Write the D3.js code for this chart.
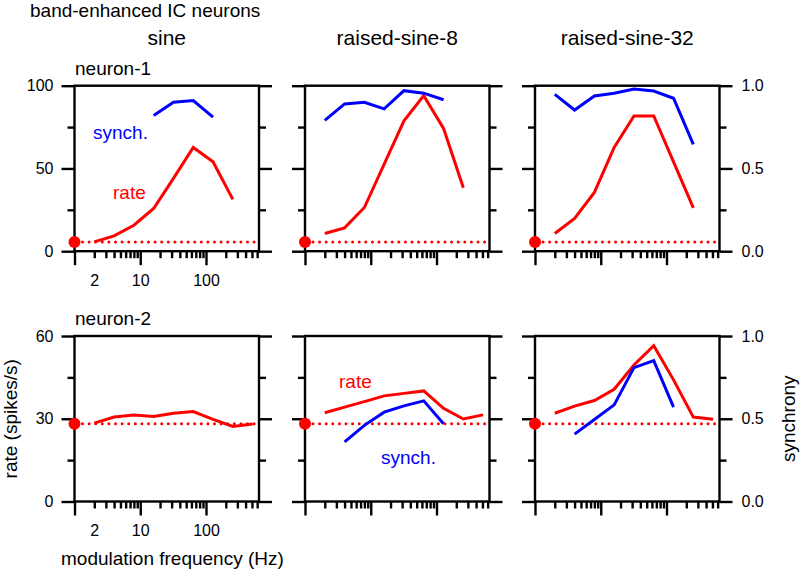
<!DOCTYPE html>
<html>
<head>
<meta charset="utf-8">
<script src="https://cdn.jsdelivr.net/npm/d3@7"></script>
<style>
  body { margin: 0; background: #fff; }
  svg text { font-family: "Liberation Sans", Arial, sans-serif; fill: #000; }
</style>
</head>
<body>
<div id="chart"></div>
<script>
// modulation frequencies (Hz), octave steps
const freqAll = [2, 4, 8, 16, 32, 64, 128, 256, 512];

// neuron-1 (rate in spikes/s, synch 0-1)
const n1Spont = 5.6;
const n1SineRate = [5.6, 9.3, 15.7, 25.8, 44, 62.7, 54, 31.3];
const n1SineSyncF = [16, 32, 64, 128];
const n1SineSync = [0.82, 0.90, 0.91, 0.81];
const n1Rs8Rate = [10.7, 14.1, 26.4, 52.6, 78.8, 94, 74.2, 38.3];
const n1Rs8Sync = [0.79, 0.89, 0.90, 0.86, 0.97, 0.955, 0.915];
const n1Rs32Rate = [10.7, 19.8, 35.5, 62.7, 81.7, 81.7, 54, 26.2];
const n1Rs32Sync = [0.948, 0.853, 0.938, 0.954, 0.98, 0.968, 0.924, 0.645];

// neuron-2
const n2Spont = 28.2;
const n2SineRate = [28.4, 30.6, 31.4, 30.8, 32, 32.6, 29.8, 27.2, 28.1];
const n2Rs8Rate = [32.2, 34.2, 36.2, 38.3, 39.2, 40.1, 33.8, 29.9, 31.4];
const n2Rs8SyncF = [4, 8, 16, 32, 64, 128];
const n2Rs8Sync = [0.36, 0.46, 0.54, 0.578, 0.608, 0.47];
const n2Rs32Rate = [32, 34.6, 36.6, 40.7, 49.5, 56.5, 44.1, 30.6, 29.8];
const n2Rs32Sync = [0.407, 0.495, 0.584, 0.809, 0.851, 0.57];

const columns = ["sine", "raised-sine-8", "raised-sine-32"];
const rateMax = [100, 60];
const rateTicks = [[0, 50, 100], [0, 30, 60]];
const rateMinor = [[25, 75], [15, 45]];
const syncTicks = ["0.0", "0.5", "1.0"];

function pairs(fs, vs) { return vs.map((v, i) => ({f: fs[i], v: v})); }

const panels = [
  {row: 0, col: 0, spont: n1Spont, rate: pairs(freqAll, n1SineRate), sync: pairs(n1SineSyncF, n1SineSync)},
  {row: 0, col: 1, spont: n1Spont, rate: pairs(freqAll, n1Rs8Rate), sync: pairs(freqAll, n1Rs8Sync)},
  {row: 0, col: 2, spont: n1Spont, rate: pairs(freqAll, n1Rs32Rate), sync: pairs(freqAll, n1Rs32Sync)},
  {row: 1, col: 0, spont: n2Spont, rate: pairs(freqAll, n2SineRate), sync: []},
  {row: 1, col: 1, spont: n2Spont, rate: pairs(freqAll, n2Rs8Rate), sync: pairs(n2Rs8SyncF, n2Rs8Sync)},
  {row: 1, col: 2, spont: n2Spont, rate: pairs(freqAll, n2Rs32Rate), sync: pairs(n2Rs8SyncF, n2Rs32Sync)}
];

const width = 800, height = 569;
const panelLeft = [74.5, 305, 535];
const panelTop = [85.7, 336];
const pw = 184.5, ph = 165.5;

const svg = d3.select("#chart").append("svg")
  .attr("width", width).attr("height", height);

svg.append("text").attr("x", 30).attr("y", 17)
  .style("font-size", "19px").text("band-enhanced IC neurons");

columns.forEach((c, i) => {
  svg.append("text").attr("x", panelLeft[i] + pw / 2).attr("y", 45)
    .attr("text-anchor", "middle").style("font-size", "21px").text(c);
});

["neuron-1", "neuron-2"].forEach((n, i) => {
  svg.append("text").attr("x", 75).attr("y", panelTop[i] - 11)
    .style("font-size", "19px").text(n);
});

svg.append("text")
  .attr("transform", "translate(17," + (panelTop[1] + ph / 2) + ") rotate(-90)")
  .attr("text-anchor", "middle").style("font-size", "19px").text("rate (spikes/s)");
svg.append("text")
  .attr("transform", "translate(795," + (panelTop[1] + ph / 2) + ") rotate(-90)")
  .attr("text-anchor", "middle").style("font-size", "19px").text("synchrony");
svg.append("text").attr("x", 61).attr("y", 565)
  .style("font-size", "19px").text("modulation frequency (Hz)");

const minorX = [2,3,4,5,6,7,8,9,20,30,40,50,60,70,80,90,200,300,400,500,600];

function styleAxis(g) {
  g.select(".domain").remove();
  g.selectAll(".tick line").attr("stroke", "#000").attr("stroke-width", 2.4);
  g.selectAll(".tick text").style("font-size", "16px")
    .style("font-family", "'Liberation Sans', Arial, sans-serif");
}

panels.forEach(p => {
  const g = svg.append("g")
    .attr("transform", "translate(" + panelLeft[p.col] + "," + panelTop[p.row] + ")");

  const x = d3.scaleLog().domain([1, 640]).range([0, pw]);
  const y = d3.scaleLinear().domain([0, rateMax[p.row]]).range([ph, 0]);
  const ys = d3.scaleLinear().domain([0, 1]).range([ph, 0]);

  // x axis: majors, minors, labels
  g.append("g").attr("transform", "translate(0," + ph + ")")
    .call(d3.axisBottom(x).tickValues([1, 10, 100]).tickSize(14).tickFormat(""))
    .call(styleAxis);
  g.append("g").attr("transform", "translate(0," + ph + ")")
    .call(d3.axisBottom(x).tickValues(minorX).tickSize(7).tickFormat(""))
    .call(styleAxis);
  if (p.col === 0) {
    g.append("g").attr("transform", "translate(0," + ph + ")")
      .call(d3.axisBottom(x).tickValues([2, 10, 100]).tickSize(0).tickPadding(23).tickFormat(d3.format("d")))
      .call(styleAxis);
  }

  // left rate axis
  g.append("g")
    .call(d3.axisLeft(y).tickValues(rateTicks[p.row]).tickSize(13).tickPadding(8)
      .tickFormat(p.col === 0 ? d3.format("d") : ""))
    .call(styleAxis);
  g.append("g")
    .call(d3.axisLeft(y).tickValues(rateMinor[p.row]).tickSize(7).tickFormat(""))
    .call(styleAxis);

  // right synch axis
  g.append("g").attr("transform", "translate(" + pw + ",0)")
    .call(d3.axisRight(ys).tickValues([0, 0.5, 1]).tickSize(13).tickPadding(9)
      .tickFormat(p.col === 2 ? (d, i) => syncTicks[i] : ""))
    .call(styleAxis);
  g.append("g").attr("transform", "translate(" + pw + ",0)")
    .call(d3.axisRight(ys).tickValues([0.25, 0.75]).tickSize(7).tickFormat(""))
    .call(styleAxis);

  // frame
  g.append("rect").attr("width", pw).attr("height", ph)
    .attr("fill", "none").attr("stroke", "#000").attr("stroke-width", 2.4);

  // spontaneous rate
  g.append("line")
    .attr("x1", x(1) + 8).attr("x2", pw - 2)
    .attr("y1", y(p.spont)).attr("y2", y(p.spont))
    .attr("stroke", "#ff0000").attr("stroke-width", 3)
    .attr("stroke-linecap", "round").attr("stroke-dasharray", "0,6.6");
  g.append("circle").attr("cx", x(1)).attr("cy", y(p.spont)).attr("r", 6)
    .attr("fill", "#ff0000");

  const rateLine = d3.line().x(d => x(d.f)).y(d => y(d.v));
  const syncLine = d3.line().x(d => x(d.f)).y(d => ys(d.v));

  g.append("path").datum(p.rate).attr("d", rateLine)
    .attr("fill", "none").attr("stroke", "#ff0000").attr("stroke-width", 3);
  if (p.sync.length) {
    g.append("path").datum(p.sync).attr("d", syncLine)
      .attr("fill", "none").attr("stroke", "#0000ff").attr("stroke-width", 3);
  }
});

// in-panel labels
svg.append("text").attr("x", 93).attr("y", 139)
  .style("fill", "#0000ff").style("font-size", "19px").text("synch.");
svg.append("text").attr("x", 113).attr("y", 199)
  .style("fill", "#ff0000").style("font-size", "19px").text("rate");
svg.append("text").attr("x", 339).attr("y", 388)
  .style("fill", "#ff0000").style("font-size", "19px").text("rate");
svg.append("text").attr("x", 381).attr("y", 464)
  .style("fill", "#0000ff").style("font-size", "19px").text("synch.");
</script>
</body>
</html>
